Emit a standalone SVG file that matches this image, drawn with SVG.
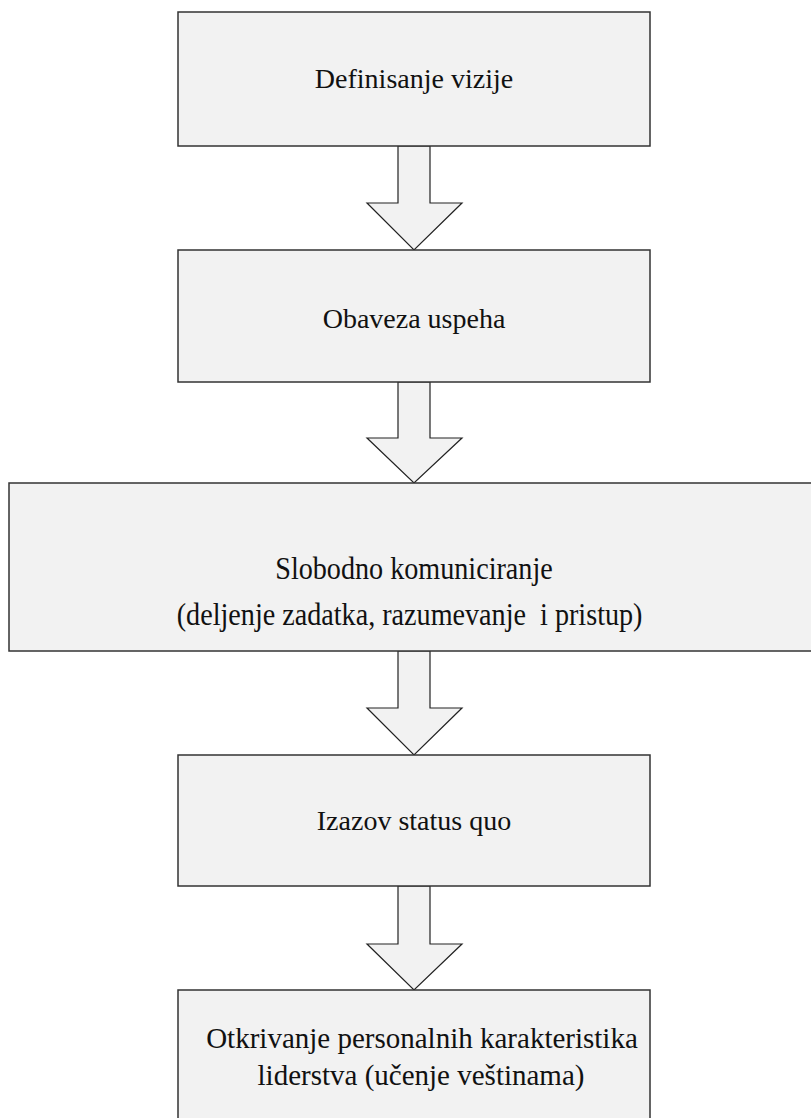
<svg xmlns="http://www.w3.org/2000/svg" width="811" height="1118" viewBox="0 0 811 1118">
<style>
.box{fill:#f2f2f2;stroke:#333;stroke-width:1.5}
.arr{fill:#f2f2f2;stroke:#222;stroke-width:1.2;stroke-linejoin:miter}
text{font-family:"Liberation Serif","Times New Roman",serif;font-size:28px;fill:#111;text-anchor:middle;white-space:pre}
.tall{font-size:32px}
</style>
<rect width="811" height="1118" fill="#fff"/>
<g id="connectors">
<path class="arr" d="M398,146 L430,146 L430,203 L462,203 L414,250 L367,203 L398,203 Z"/>
<path class="arr" d="M398,382 L430,382 L430,438 L462,438 L414,483 L367,438 L398,438 Z"/>
<path class="arr" d="M398,651 L430,651 L430,708 L462,708 L414,755 L367,708 L398,708 Z"/>
<path class="arr" d="M398,886 L430,886 L430,944 L462,944 L414,990 L367,944 L398,944 Z"/>
</g>
<g id="n1"><rect class="box" x="178" y="12" width="472" height="134"/><text x="414" y="88">Definisanje vizije</text></g>
<g id="n2"><rect class="box" x="178" y="250" width="472" height="132"/><text x="414" y="328">Obaveza uspeha</text></g>
<g id="n3"><rect class="box" x="9" y="483" width="820" height="168"/><g transform="translate(414,0) scale(0.88,1)"><text class="tall" x="0" y="579">Slobodno komuniciranje</text><text class="tall" x="-5" y="625" xml:space="preserve">(deljenje zadatka, razumevanje  i pristup)</text></g></g>
<g id="n4"><rect class="box" x="178" y="755" width="472" height="131"/><text x="414" y="830">Izazov status quo</text></g>
<g id="n5"><rect class="box" x="178" y="990" width="472" height="140"/><text x="422" y="1048" style="font-size:29px">Otkrivanje personalnih karakteristika</text><text x="421" y="1085" style="font-size:29px">liderstva (učenje veštinama)</text></g>
</svg>
